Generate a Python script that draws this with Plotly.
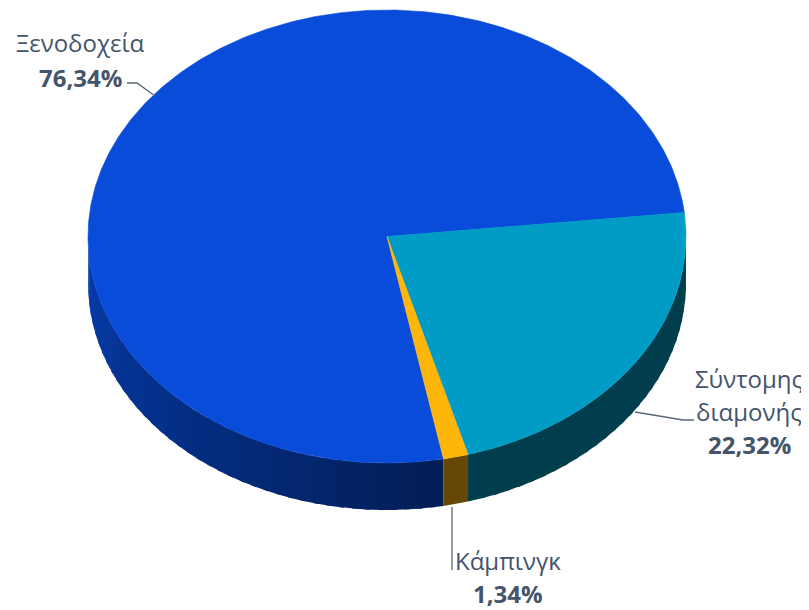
import numpy as np
import plotly.graph_objects as go

# ---- data ----
categories = ["Ξενοδοχεία", "Σύντομης διαμονής", "Κάμπινγκ"]
label_lines = [["Ξενοδοχεία"], ["Σύντομης", "διαμονής"], ["Κάμπινγκ"]]
values = [76.34, 22.32, 1.34]
top_colors = ["#084CD9", "#009CC5", "#FFB60A"]

# ---- geometry / style (pixel space of the 809x610 canvas) ----
W, H = 809, 610
OFF = 8                # page body margin of the browser
CX, CY, RX, RY, DEPTH = 387, 236.5, 299, 226.5, 47
START = 280.9          # start angle (deg, math convention), slices run clockwise
TEXT_COL = "#44546A"
FONT = "Open Sans"
FS = 24


def hex_rgb(h):
    h = h.lstrip("#")
    return np.array([int(h[i:i + 2], 16) for i in (0, 2, 4)], float)


def shade(hexcol, ang):
    a = ang % 360
    if a < 180:
        a = 180
    f = 0.80 - 0.40 * min(1.0, (a - 180) / 100.0)
    c = np.clip(hex_rgb(hexcol) * f, 0, 255).astype(int)
    return "rgb(%d,%d,%d)" % tuple(c)


def ex(a):
    return CX + RX * np.cos(np.radians(a))


def ey(a):
    return CY - RY * np.sin(np.radians(a))


fig = go.Figure()
total = sum(values)
bounds = []
a0 = START
for v in values:
    a1 = a0 - 360.0 * v / total
    bounds.append((a0, a1))
    a0 = a1

# ---- side walls (visible front half) ----
for (a0, a1), col, name in zip(bounds, top_colors, categories):
    lo, hi = a1, a0
    for wlo, whi in [(-180, 0), (180, 360), (540, 720)]:
        s, e = max(lo, wlo), min(hi, whi)
        if e - s <= 0:
            continue
        nseg = max(1, int((e - s) / 2.5))
        edges = np.linspace(s, e, nseg + 1)
        for k in range(nseg):
            aa = np.linspace(edges[k], min(e, edges[k + 1] + 1.0), 6)
            xs = np.concatenate([ex(aa), ex(aa[::-1])])
            ys = np.concatenate([ey(aa), ey(aa[::-1]) + DEPTH])
            c = shade(col, (edges[k] + edges[k + 1]) / 2)
            fig.add_trace(go.Scatter(x=xs, y=ys, mode="lines", fill="toself",
                                     fillcolor=c, line=dict(width=0),
                                     hoverinfo="skip", showlegend=False))

# ---- top faces ----
for (a0, a1), col, name, v in zip(bounds, top_colors, categories, values):
    aa = np.linspace(a0, a1, max(3, int(abs(a0 - a1) * 2)))
    xs = np.concatenate([[CX], ex(aa), [CX]])
    ys = np.concatenate([[CY], ey(aa), [CY]])
    fig.add_trace(go.Scatter(x=xs, y=ys, mode="lines", fill="toself",
                             fillcolor=col, line=dict(color=col, width=0.6),
                             name=name, hoverinfo="text",
                             text="%s: %s%%" % (name, ("%.2f" % v).replace(".", ",")),
                             showlegend=False))

# ---- labels ----
pct = [("%.2f" % v).replace(".", ",") + "%" for v in values]
label_pos = [(80, 42), (749, 378), (508, 560)]   # centre of first line
line_gap = [35, 33, 33]
leaders = [([127, 137, 155], [83, 83, 96]),
           ([694, 683, 635], [420, 420, 412]),
           ([452, 452], [570, 507])]

annotations = []
for lines, p, (lx, ly), g in zip(label_lines, pct, label_pos, line_gap):
    for i, t in enumerate(lines):
        annotations.append(dict(x=lx, y=ly + i * g, text=t, showarrow=False,
                                xref="x", yref="y", xanchor="center", yanchor="middle",
                                font=dict(family=FONT, size=FS, color=TEXT_COL)))
    annotations.append(dict(x=lx, y=ly + len(lines) * g, text="<b>%s</b>" % p,
                            showarrow=False, xref="x", yref="y",
                            xanchor="center", yanchor="middle",
                            font=dict(family=FONT, size=FS, color=TEXT_COL)))

for xs, ys in leaders:
    fig.add_trace(go.Scatter(x=xs, y=ys, mode="lines",
                             line=dict(color="#5B6678", width=1.3),
                             hoverinfo="skip", showlegend=False))

fig.update_layout(
    width=W - OFF, height=H - OFF, margin=dict(l=0, r=0, t=0, b=0),
    paper_bgcolor="white", plot_bgcolor="white",
    xaxis=dict(range=[OFF, W], visible=False, fixedrange=True),
    yaxis=dict(range=[H, OFF], visible=False, fixedrange=True),
    annotations=annotations, showlegend=False,
)

fig.write_html("out.html")
